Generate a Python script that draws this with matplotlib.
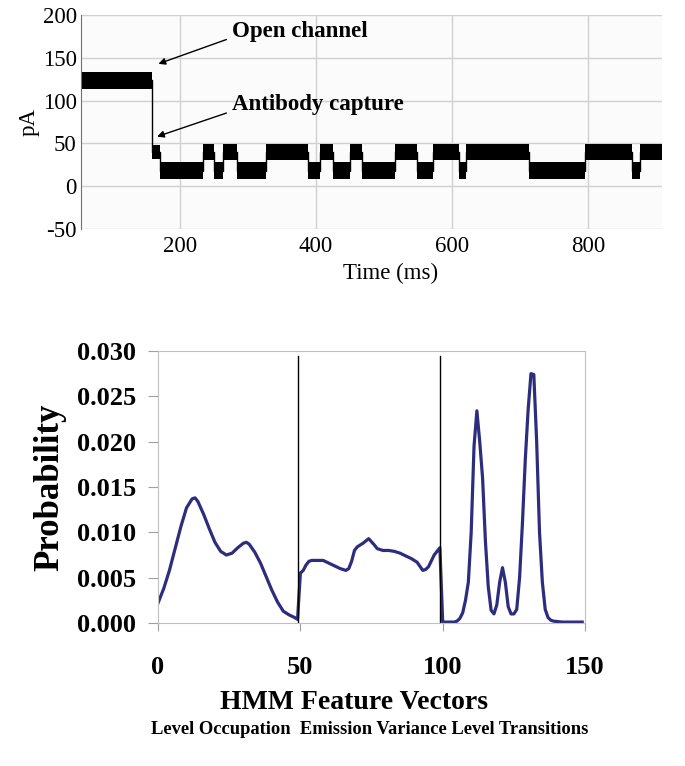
import matplotlib
matplotlib.use("Agg")
import matplotlib.pyplot as plt

plt.rcParams['font.family'] = ['Liberation Serif', 'DejaVu Serif']
plt.rcParams['axes.unicode_minus'] = False

# --- top panel: current trace, levels per segment (start ms, end ms, pA)
seg_start = [55, 158, 170, 233, 250, 263, 283, 327, 388, 406, 425, 450, 468,
             516, 548, 572, 610, 621, 714, 795, 865, 877]
seg_end = [158, 170, 233, 250, 263, 283, 327, 388, 406, 425, 450, 468, 516,
           548, 572, 610, 621, 714, 795, 865, 877, 909]
seg_level = [124, 40, 18, 40, 18, 40, 18, 40, 18, 40, 18, 40, 18,
             40, 18, 40, 18, 40, 18, 40, 18, 40]
noise_half = [10, 8, 10, 9, 10, 9, 10, 9, 10, 9, 10, 9, 10,
              9, 10, 9, 10, 9, 10, 9, 10, 9]

# --- bottom panel: HMM feature vector probabilities
feat_x = [0, 2, 4, 6, 8, 10, 12, 13, 14, 16, 18, 20, 22, 24, 26, 28, 30, 31,
          32, 34, 36, 38, 40, 42, 44, 46, 48, 49,
          50, 51, 52, 53, 54, 56, 58, 60, 62, 64, 66, 67, 68, 69, 70, 72, 74,
          76, 77, 79, 81, 83, 85, 87, 89, 91, 93, 94, 95, 97, 99,
          100, 101, 102, 103, 104, 105, 106, 107, 108, 109, 110, 111, 112, 113,
          114, 115, 116, 117, 118, 119, 120, 121, 122, 123, 124, 125, 126, 127,
          128, 129, 130, 131, 132, 133, 134, 135, 136, 137, 138, 139, 142, 149]
feat_p = [0.0022, 0.0038, 0.0058, 0.0082, 0.0106, 0.0127, 0.0137, 0.0138,
          0.0134, 0.0120, 0.0104, 0.0089, 0.0079, 0.0075, 0.0077, 0.0083,
          0.0088, 0.0089, 0.0087, 0.0078, 0.0066, 0.0051, 0.0036, 0.0023,
          0.0013, 0.0009, 0.0006, 0.0004,
          0.0055, 0.0058, 0.0064, 0.0068, 0.0069, 0.0069, 0.0069, 0.0066,
          0.0063, 0.0060, 0.0058, 0.0060, 0.0068, 0.0080, 0.0084, 0.0088,
          0.0093, 0.0086, 0.0082, 0.0080, 0.0080, 0.0079, 0.0077, 0.0074,
          0.0071, 0.0067, 0.0058, 0.0059, 0.0062, 0.0075, 0.0083,
          0.0001, 0.0001, 0.0001, 0.0001, 0.0001, 0.0002, 0.0005, 0.0011,
          0.0025, 0.0045, 0.0100, 0.0195, 0.0234, 0.0200, 0.0160, 0.0090,
          0.0040, 0.0014, 0.0010, 0.0020, 0.0045, 0.0061, 0.0045, 0.0018,
          0.0010, 0.0010, 0.0015, 0.0050, 0.0110, 0.0180, 0.0235, 0.0275,
          0.0274, 0.0200, 0.0100, 0.0045, 0.0015, 0.0006, 0.0003, 0.0002,
          0.0001, 0.0001]
dividers = [49, 99]
caption = "Level Occupation  Emission Variance Level Transitions"

fig = plt.figure(figsize=(6.85, 7.66), dpi=100)

# top trace
ax1 = fig.add_axes([0.1182, 0.701, 0.8482, 0.2794])
ax1.set_facecolor('#fbfbfb')
for t0, t1, lv, w in zip(seg_start, seg_end, seg_level, noise_half):
    ax1.fill_between([t0, t1], lv - w, lv + w, color='black', lw=0)
step_x = []
step_y = []
for t0, t1, lv in zip(seg_start, seg_end, seg_level):
    step_x += [t0, t1]
    step_y += [lv, lv]
ax1.plot(step_x, step_y, color='black', lw=1)
ax1.set_xlim(54, 909)
ax1.set_ylim(-50, 200)
ax1.set_xticks([200, 400, 600, 800])
ax1.set_yticks([-50, 0, 50, 100, 150, 200])
ax1.grid(True, color='#d0d0d0', lw=1)
ax1.set_axisbelow(True)
ax1.tick_params(length=0, labelsize=16.5)
ax1.tick_params(axis='y', pad=3)
ax1.tick_params(axis='x', pad=5)
for s in ['top', 'right', 'bottom']:
    ax1.spines[s].set_visible(False)
ax1.spines['left'].set_color('#707070')
ax1.set_xlabel('Time (ms)', fontsize=16.5)
ax1.xaxis.set_label_coords(0.533, -0.16)
ax1.set_ylabel('pA', fontsize=16.5)
ax1.yaxis.set_label_coords(-0.072, 0.5)
arrow = dict(arrowstyle='-|>', color='black', lw=1, mutation_scale=10,
             relpos=(0, 0.2), shrinkA=2, shrinkB=0)
ax1.annotate('Open channel', xy=(168, 143), xytext=(276, 181),
             fontsize=16.5, fontweight='bold', va='center', arrowprops=arrow)
ax1.annotate('Antibody capture', xy=(166, 58), xytext=(276, 95),
             fontsize=16.5, fontweight='bold', va='center', arrowprops=arrow)

# bottom feature vectors
ax2 = fig.add_axes([0.2307, 0.1867, 0.6234, 0.3551])
ax2.plot(feat_x, feat_p, color='#2d2d80', lw=2.3)
for d in dividers:
    ax2.plot([d, d], [0, 0.0295], color='black', lw=1)
ax2.set_xlim(0, 150)
ax2.set_ylim(0, 0.030)
ax2.set_xticks([0, 50, 100, 150])
ax2.set_yticks([0, 0.005, 0.010, 0.015, 0.020, 0.025, 0.030])
ax2.set_yticklabels(['%.3f' % v for v in ax2.get_yticks()])
for s in ax2.spines.values():
    s.set_color('#c0c0c0')
ax2.tick_params(axis='y', length=7, color='#a0a0a0', labelsize=19, pad=9)
ax2.tick_params(axis='x', length=6, color='#a0a0a0', labelsize=19, pad=18)
for lab in ax2.get_xticklabels() + ax2.get_yticklabels():
    lab.set_fontweight('bold')
ax2.set_ylabel('Probability', fontsize=25, fontweight='bold')
ax2.yaxis.set_label_coords(-0.215, 0.5)
ax2.set_xlabel('HMM Feature Vectors', fontsize=20, fontweight='bold')
ax2.xaxis.set_label_coords(0.46, -0.245)
fig.text(0.54, 0.047, caption, fontsize=13.3, fontweight='bold',
         ha='center', va='center')

fig.savefig('out.png', dpi=100)
